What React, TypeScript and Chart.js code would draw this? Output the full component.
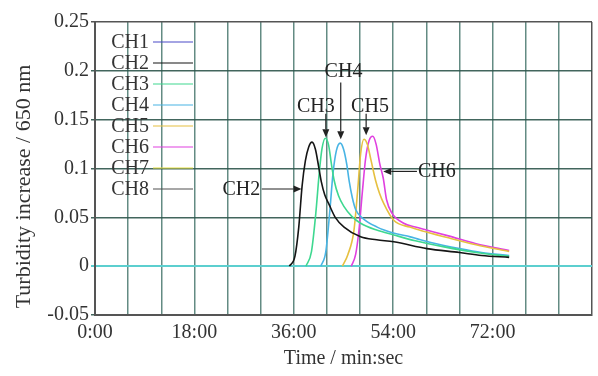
import React, { useEffect, useRef } from "react";
import { Chart, registerables } from "chart.js";

Chart.register(...registerables);

const FONT = "'Liberation Serif', 'Times New Roman', serif";

const channelNames = ["CH1", "CH2", "CH3", "CH4", "CH5", "CH6", "CH7", "CH8"];
const channelColors = ["#4a4ac8", "#151515", "#3ed890", "#48b4e4", "#e6c040", "#e040e0", "#e6e040", "#505050"];

// time in minutes, turbidity increase (curves begin where they leave the baseline)
const ch1T: number[] = [];
const ch1V: number[] = [];
const ch2T = [35.2, 36.2, 36.9, 37.5, 38.1, 38.7, 39.3, 39.9, 40.5, 41.0, 41.6, 42.4, 43.5, 45.1, 48.1, 51.0, 54.1, 60.1, 66.0, 70.0, 75.0];
const ch2V = [0, 0.010, 0.040, 0.082, 0.108, 0.122, 0.127, 0.120, 0.102, 0.086, 0.073, 0.063, 0.050, 0.040, 0.030, 0.027, 0.025, 0.018, 0.014, 0.011, 0.009];
const ch3T = [38.2, 39.2, 40.0, 40.6, 41.1, 41.7, 42.3, 42.8, 43.3, 44.1, 45.1, 46.5, 48.1, 51.0, 54.1, 58.0, 63.0, 69.0, 75.0];
const ch3V = [0, 0.015, 0.055, 0.095, 0.120, 0.131, 0.124, 0.105, 0.088, 0.072, 0.061, 0.051, 0.044, 0.037, 0.032, 0.026, 0.020, 0.014, 0.010];
const ch4T = [40.9, 41.8, 42.5, 43.1, 43.7, 44.4, 45.0, 45.6, 46.0, 46.6, 47.2, 48.5, 51.1, 54.0, 57.1, 61.0, 66.0, 70.0, 75.0];
const ch4V = [0, 0.015, 0.055, 0.095, 0.118, 0.126, 0.120, 0.104, 0.088, 0.070, 0.058, 0.049, 0.040, 0.034, 0.030, 0.024, 0.018, 0.014, 0.011];
const ch5T = [44.8, 45.8, 46.9, 47.6, 48.1, 48.7, 49.3, 50.0, 50.8, 51.5, 52.3, 54.1, 57.0, 60.0, 64.0, 69.0, 75.0];
const ch5V = [0, 0.012, 0.037, 0.080, 0.115, 0.130, 0.125, 0.108, 0.088, 0.075, 0.064, 0.047, 0.040, 0.035, 0.029, 0.022, 0.015];
const ch6T = [46.4, 47.2, 47.8, 48.4, 49.0, 49.6, 50.3, 50.9, 51.6, 52.2, 52.8, 53.8, 55.9, 58.0, 60.0, 64.0, 69.0, 75.0];
const ch6V = [0, 0.012, 0.037, 0.075, 0.110, 0.128, 0.133, 0.125, 0.104, 0.090, 0.068, 0.054, 0.044, 0.040, 0.037, 0.031, 0.023, 0.016];
const ch7T: number[] = [];
const ch7V: number[] = [];
const ch8T: number[] = [];
const ch8V: number[] = [];

const seriesT = [ch1T, ch2T, ch3T, ch4T, ch5T, ch6T, ch7T, ch8T];
const seriesV = [ch1V, ch2V, ch3V, ch4V, ch5V, ch6V, ch7V, ch8V];

// axis
const xMin = 0;
const xMax = 90;
const xStep = 6;
const xLabelEvery = 18;
const yMin = -0.05;
const yMax = 0.25;
const yStep = 0.05;
const xTitle = "Time / min:sec";
const yTitle = "Turbidity increase / 650 nm";

// annotations: label position (t, v), arrow from (t, v) to tip (t, v)
const annLabels = ["CH2", "CH3", "CH4", "CH5", "CH6"];
const annLabelT = [26.5, 40.0, 45.0, 49.8, 61.9];
const annLabelV = [0.078, 0.163, 0.1995, 0.163, 0.097];
const annFromT = [30.2, 41.8, 44.5, 49.1, 58.3];
const annFromV = [0.079, 0.156, 0.188, 0.156, 0.097];
const annToT = [37.4, 41.8, 44.5, 49.1, 52.2];
const annToV = [0.079, 0.132, 0.130, 0.134, 0.097];

const overlayPlugin = {
  id: "overlay",
  afterDatasetsDraw(chart: any) {
    const ctx = chart.ctx;
    const xs = chart.scales.x;
    const ys = chart.scales.y;
    const area = chart.chartArea;
    ctx.save();
    // annotations
    ctx.fillStyle = "#222";
    ctx.strokeStyle = "#222";
    ctx.lineWidth = 1.2;
    ctx.font = `20px ${FONT}`;
    ctx.textAlign = "center";
    ctx.textBaseline = "middle";
    for (let i = 0; i < annLabels.length; i++) {
      const lx = xs.getPixelForValue(annLabelT[i]);
      const ly = ys.getPixelForValue(annLabelV[i]);
      ctx.fillText(annLabels[i], lx, ly);
      const x1 = xs.getPixelForValue(annFromT[i]);
      const y1 = ys.getPixelForValue(annFromV[i]);
      const x2 = xs.getPixelForValue(annToT[i]);
      const y2 = ys.getPixelForValue(annToV[i]);
      const ang = Math.atan2(y2 - y1, x2 - x1);
      const hl = 8;
      const hw = 3.5;
      const bx = x2 - hl * Math.cos(ang);
      const by = y2 - hl * Math.sin(ang);
      ctx.beginPath();
      ctx.moveTo(x1, y1);
      ctx.lineTo(bx, by);
      ctx.stroke();
      ctx.beginPath();
      ctx.moveTo(x2, y2);
      ctx.lineTo(bx + hw * Math.sin(ang), by - hw * Math.cos(ang));
      ctx.lineTo(bx - hw * Math.sin(ang), by + hw * Math.cos(ang));
      ctx.closePath();
      ctx.fill();
    }
    // legend
    ctx.textAlign = "right";
    ctx.fillStyle = "#333";
    for (let i = 0; i < channelNames.length; i++) {
      const y = area.top + 20 + i * 21;
      ctx.fillText(channelNames[i], area.left + 54, y + 1);
      ctx.strokeStyle = channelColors[i];
      ctx.lineWidth = 1.2;
      ctx.beginPath();
      ctx.moveTo(area.left + 58, y);
      ctx.lineTo(area.left + 98, y);
      ctx.stroke();
    }
    // y title
    ctx.font = `22px ${FONT}`;
    ctx.translate(24, (area.top + area.bottom) / 2 + 18);
    ctx.rotate(-Math.PI / 2);
    ctx.textAlign = "center";
    ctx.fillStyle = "#333";
    ctx.fillText(yTitle, 0, 0);
    ctx.restore();
  },
};

function fmtTime(v: number) {
  return `${v}:00`;
}

export default function App() {
  const ref = useRef<HTMLCanvasElement>(null);
  useEffect(() => {
    if (!ref.current) return;
    const datasets = channelNames.map((name, i) => ({
      label: name,
      data: seriesT[i].map((t, j) => ({ x: t, y: seriesV[i][j] })),
      borderColor: channelColors[i],
      backgroundColor: channelColors[i],
      borderWidth: 1.6,
      pointRadius: 0,
      fill: false,
      cubicInterpolationMode: "monotone" as const,
    }));
    const chart = new Chart(ref.current, {
      type: "line",
      data: { datasets },
      options: {
        animation: false,
        responsive: false,
        layout: { padding: { top: 22, right: 1, left: 0, bottom: 0 } },
        plugins: { legend: { display: false }, tooltip: { enabled: false } },
        scales: {
          x: {
            type: "linear",
            min: xMin,
            max: xMax,
            afterFit: (s: any) => {
              s.height = 61;
            },
            ticks: {
              stepSize: xStep,
              autoSkip: false,
              maxRotation: 0,
              padding: 6,
              color: "#333",
              font: { family: FONT, size: 20 },
              callback: (v: any) => (v % xLabelEvery === 0 && v < xMax ? fmtTime(v) : ""),
            },
            grid: {
              drawTicks: false,
              color: (c: any) => (c.tick && (c.tick.value === xMax) ? "#555" : "rgba(60,110,100,0.8)"),
              lineWidth: 1.5,
            },
            border: { color: "#555", width: 2 },
            title: {
              display: true,
              text: xTitle,
              color: "#333",
              font: { family: FONT, size: 20 },
              padding: { top: 0, bottom: 5 },
            },
          },
          y: {
            type: "linear",
            min: yMin,
            max: yMax,
            afterFit: (s: any) => {
              s.width = 95;
            },
            ticks: {
              stepSize: yStep,
              padding: 2,
              color: "#333",
              font: { family: FONT, size: 20 },
              callback: (v: any) => String(Number(Number(v).toFixed(2))),
            },
            grid: {
              tickLength: 4,
              color: (c: any) => {
                const v = c.tick ? Number(Number(c.tick.value).toFixed(2)) : NaN;
                if (v === 0) return "#5ccfcf";
                if (v === yMax) return "#555";
                return "rgba(45,85,75,0.9)";
              },
              lineWidth: (c: any) => {
                const v = c.tick ? Number(Number(c.tick.value).toFixed(2)) : NaN;
                return v === 0 ? 2 : 1.5;
              },
            },
            border: { color: "#555", width: 2 },
          },
        },
      },
      plugins: [overlayPlugin],
    } as any);
    return () => chart.destroy();
  }, []);
  return (
    <div style={{ position: "fixed", left: 0, top: 0, width: 598, height: 376, background: "#fff" }}>
      <canvas ref={ref} width={598} height={376} style={{ display: "block" }} />
    </div>
  );
}
